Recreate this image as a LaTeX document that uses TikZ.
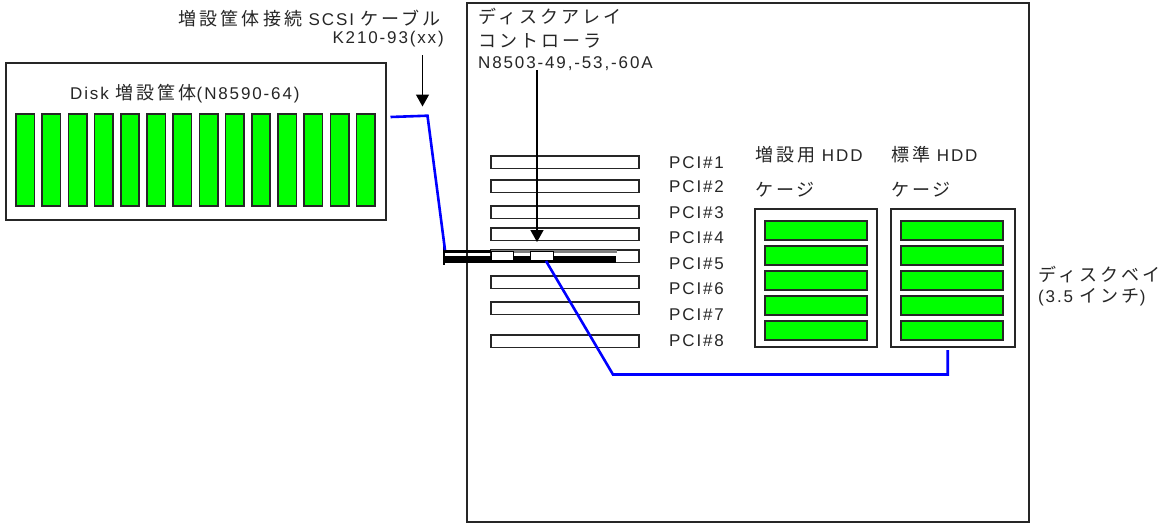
\documentclass[tikz,border=0pt]{standalone}
\usepackage{fontspec}
\setmainfont[LetterSpace=11]{Liberation Sans}
\newfontfamily\cjk[Scale=1.06,LetterSpace=17]{Noto Sans CJK JP}
\newcommand{\jp}[1]{{\cjk #1}}
\definecolor{diskgreen}{RGB}{0,255,0}
\definecolor{cableblue}{RGB}{0,0,255}
\tikzset{
  frame/.style={draw=black!85,line width=1.3pt,fill=white},
  slotbox/.style={draw=black!85,line width=1.3pt,fill=white},
  diskbox/.style={draw=black!85,line width=1.5pt,fill=diskgreen},
  cable/.style={draw=cableblue,line width=2.6pt,line join=miter},
  pointer/.style={draw=black,line width=1.4pt,-{Triangle[length=12pt,width=13pt]}},
  lbl/.style={inner sep=0pt,font=\fontsize{17}{20}\selectfont,text=black!85},
}
\usetikzlibrary{arrows.meta}
\begin{document}
\begin{tikzpicture}[x=1pt,y=-1pt]
\useasboundingbox (0,0) rectangle (1160,525);
% enclosures
\path[frame] (467,3) rectangle (1029,522);
\path[frame] (6,63) rectangle (386,220);
\node[lbl,anchor=base west] (disktitle) at (70,99) {Disk \jp{増設筐体}(N8590-64)};
% external disks
\foreach \i in {0,...,13}{
  \pgfmathsetmacro{\xa}{16+26.2*\i}
  \path[diskbox] (\xa,114) rectangle (\xa+18.4,206);
}
% PCI slots
\foreach \n/\y/\ly in {1/156/168,2/180/192,3/206/218,4/228/243,5/250/269,6/276/294,7/302/320,8/335/346}{
  \path[slotbox] (491,\y) rectangle (639,\y+12.7);
  \node[lbl,anchor=base west] (pcilabel\n) at (669,\ly) {PCI\#\n};
}
% cages
\path[frame] (755,209) rectangle (877,347);
\path[frame] (891,209) rectangle (1015,347);
\foreach \y in {221,246,271,296,321}{
  \path[diskbox] (765,\y) rectangle (867,\y+19);
  \path[diskbox] (901,\y) rectangle (1003,\y+19);
}
% controller bracket
\fill[black!50] (491,250) rectangle (617,253);
\fill[black] (444,250) rectangle (491,252.5);
\fill[black] (444,256) rectangle (616,263);
\fill[black] (442.5,241.7) rectangle (445,265);
\draw[draw=black,line width=1pt,fill=white] (491,251.5) rectangle (513.5,260.5);
\draw[draw=black,line width=1pt,fill=white] (530,251.5) rectangle (553,260.5);
% labels
\node[lbl,anchor=base east] (cabletitle) at (441,25) {\jp{増設筐体接続} SCSI \jp{ケーブル}};
\node[lbl,anchor=base east] (cablemodel) at (444,43) {K210-93(xx)};
\node[lbl,anchor=base west] (ctrla) at (478,23) {\jp{ディスクアレイ}};
\node[lbl,anchor=base west] (ctrlb) at (478,47) {\jp{コントローラ}};
\node[lbl,anchor=base west] (ctrlc) at (478,68) {N8503-49,-53,-60A};
\node[lbl,anchor=base west] (cagea) at (755,161) {\jp{増設用} HDD};
\node[lbl,anchor=base west] (cageb) at (755,196) {\jp{ケージ}};
\node[lbl,anchor=base west] (cagec) at (891,161) {\jp{標準} HDD};
\node[lbl,anchor=base west] (caged) at (891,196) {\jp{ケージ}};
\node[lbl,anchor=base west] (baya) at (1038,281) {\jp{ディスクベイ}};
\node[lbl,anchor=base west] (bayb) at (1038,302) {(3.5 \jp{インチ})};
% cables
\coordinate (c1a) at (390.5,117);
\coordinate (c1b) at (427.5,115.7);
\coordinate (c1c) at (445,250);
\coordinate (c2a) at (546,261);
\coordinate (c2b) at (613,374.5);
\coordinate (c2c) at (947.7,374.5);
\coordinate (c2d) at (947.7,350);
\draw[cable] (c1a) -- (c1b) -- (c1c);
\draw[cable] (c2a) -- (c2b) -- (c2c) -- (c2d);
% pointers
\coordinate (p1a) at (422.5,55);
\coordinate (p1b) at (422.5,106.5);
\coordinate (p2a) at (537,70);
\coordinate (p2b) at (537,242);
\draw[pointer] (p1a) -- (p1b);
\draw[pointer] (p2a) -- (p2b);
\end{tikzpicture}
\end{document}
